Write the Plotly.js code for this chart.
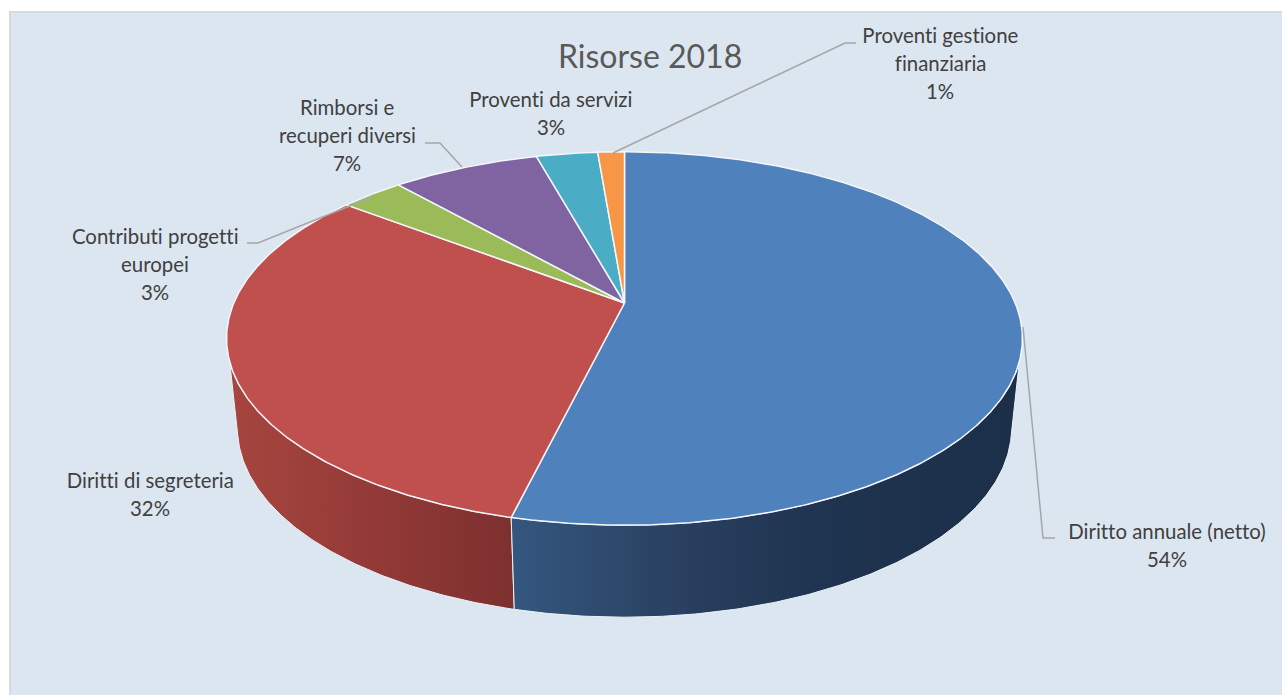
<!DOCTYPE html>
<html>
<head>
<meta charset="utf-8">
<script src="https://cdn.plot.ly/plotly-3.0.1.min.js"></script>
<style>
html,body{margin:0;padding:0;background:#fff;overflow:hidden}
#chart{width:1282px;height:695px}
#chart text{font-variant-ligatures:none !important;font-feature-settings:"liga" 0,"clig" 0 !important}
</style>
</head>
<body>
<div id="chart"></div>
<script>
// Resource shares for 2018, clockwise from twelve o'clock
const categories = ["Diritto annuale (netto)", "Diritti di segreteria", "Contributi progetti europei",
                    "Rimborsi e recuperi diversi", "Proventi da servizi", "Proventi gestione finanziaria"];
const shares = [53.8, 31.6, 3.1, 7.2, 3.0, 1.3];
const sliceColors = ["#4f81bd", "#c0504d", "#9bbb59", "#8064a2", "#4bacc6", "#f79646"];

// Label text broken into lines, one list per category
const labelLines = [["Diritto annuale (netto)"], ["Diritti di segreteria"], ["Contributi progetti", "europei"],
                    ["Rimborsi e", "recuperi diversi"], ["Proventi da servizi"], ["Proventi gestione", "finanziaria"]];
const labelCentres = [[1167, 531], [150, 480], [155, 236], [347, 107], [551, 99], [940, 35]];
const leaders = [
  "M1023,327 L1043,538 L1055,538",
  null,
  "M247,243 L258,243 L372,197",
  "M425,143 L440,143 L462,167",
  null,
  "M613,153 L845,43 L856,43"
];

// Perspective view of the disc: far side is foreshortened, near side enlarged
const topDisc = {cx: 624.5, cy: 303, a: 390.7, b: 180, k: 0.19};
const baseDisc = {cx: 624.5, cy: 392, a: 380, b: 182.4, k: 0.19};
function project(disc, deg) {
  const t = deg * Math.PI / 180, X = Math.sin(t), Y = Math.cos(t), d = 1 + disc.k * Y;
  return [disc.cx + disc.a * X / d, disc.cy - disc.b * Y / d];
}
function arc(disc, from, to) {
  const n = Math.max(2, Math.ceil(Math.abs(to - from) * 2)), pts = [];
  for (let i = 0; i <= n; i++) pts.push(project(disc, from + (to - from) * i / n));
  return pts;
}

const total = shares.reduce((a, b) => a + b, 0);
let running = 0;
const edges = shares.map(v => { const s = running; running += v; return [s / total * 360, running / total * 360]; });

function wallTrace(name, topFrom, topTo, baseFrom, baseTo, scale) {
  const pts = arc(topDisc, topFrom, topTo).concat(arc(baseDisc, baseTo, baseFrom));
  pts.push(pts[0]);
  return {
    type: "scatter", mode: "lines", name: name, showlegend: false, hoverinfo: "skip",
    x: pts.map(p => p[0]), y: pts.map(p => p[1]),
    fill: "toself", fillgradient: {type: "horizontal", colorscale: scale},
    line: {color: "#eef2f7", width: 1}
  };
}

// Side wall: only the two front slices show it
const traces = [
  wallTrace(categories[1] + " (lato)", edges[0][1], 252, edges[0][1], 257,
            [[0, "#a7453f"], [0.5, "#933a37"], [1, "#7d302f"]]),
  wallTrace(categories[0] + " (lato)", 108, edges[0][1], 103, edges[0][1],
            [[0, "#34577f"], [0.35, "#293f5f"], [0.6, "#1f3450"], [1, "#1c2f49"]])
];

// Top face
shares.forEach((v, i) => {
  const apex = [[topDisc.cx, topDisc.cy]];
  const all = apex.concat(arc(topDisc, edges[i][0], edges[i][1]), apex);
  traces.push({
    type: "scatter", mode: "lines", name: categories[i], showlegend: false,
    x: all.map(p => p[0]), y: all.map(p => p[1]),
    fill: "toself", fillcolor: sliceColors[i],
    line: {color: "#f4f6fa", width: 1.5},
    hovertemplate: categories[i] + ": " + v + "%<extra></extra>"
  });
});

const textColor = "#404040";
const lineStep = 28;
const annotations = [{
  text: "Risorse 2018", x: 650, y: 55, xref: "x", yref: "y", showarrow: false,
  font: {family: "Lato, sans-serif", size: 32, color: "#595959"}
}];
categories.forEach((c, i) => {
  const lines = labelLines[i].concat([Math.round(shares[i]) + "%"]);
  lines.forEach((t, j) => annotations.push({
    text: t, x: labelCentres[i][0], y: labelCentres[i][1] + j * lineStep, xref: "x", yref: "y",
    showarrow: false, font: {family: "Lato, sans-serif", size: 20.4, color: textColor}
  }));
});

const shapes = [{
  type: "rect", xref: "x", yref: "y", x0: 10, y0: 12, x1: 1290, y1: 705, layer: "below",
  fillcolor: "#dce6f1", line: {color: "#d9d9d9", width: 2}
}];
leaders.filter(Boolean).forEach(p => shapes.push({
  type: "path", xref: "x", yref: "y", path: p, layer: "above", line: {color: "#a6a6a6", width: 1.5}
}));

const layout = {
  width: 1282, height: 695, margin: {l: 0, r: 0, t: 0, b: 0},
  paper_bgcolor: "#ffffff", plot_bgcolor: "rgba(0,0,0,0)", showlegend: false,
  xaxis: {range: [0, 1282], visible: false, fixedrange: true},
  yaxis: {range: [695, 0], visible: false, fixedrange: true},
  shapes: shapes, annotations: annotations
};
Plotly.newPlot("chart", traces, layout, {displayModeBar: false, staticPlot: true});
</script>
</body>
</html>
